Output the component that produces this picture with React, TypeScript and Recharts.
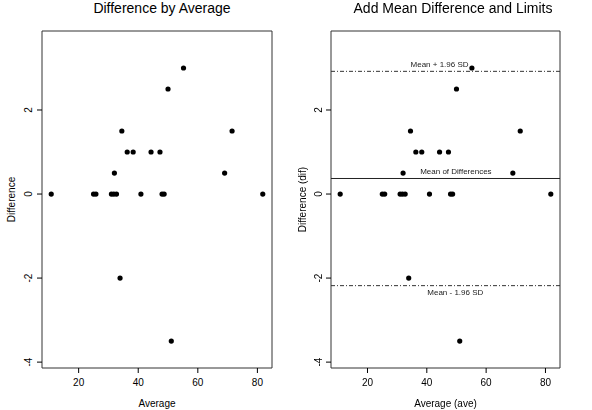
import React from "react";
import {
  ScatterChart,
  Scatter,
  XAxis,
  YAxis,
  ReferenceLine,
  ReferenceArea,
  ReferenceDot,
} from "recharts";

// values
const averages = [
  10.8, 25, 25.8, 31, 31.8, 32.7, 40.9, 48, 48.7, 81.8,
  32, 69, 36.3, 38.3, 44.3, 47.3, 34.5, 71.5, 50, 55.2, 33.9, 51.1,
];
const differences = [
  0, 0, 0, 0, 0, 0, 0, 0, 0, 0,
  0.5, 0.5, 1, 1, 1, 1, 1.5, 1.5, 2.5, 3, -2, -3.5,
];
const xTicks = [20, 40, 60, 80];
const yTicks = [-4, -2, 0, 2];
const meanDiff = 0.37;
const upperLimit = 2.92;
const lowerLimit = -2.18;

const X_DOMAIN: [number, number] = [7.7, 84.9];
const Y_DOMAIN: [number, number] = [-4.14, 3.88];

const points = averages.map((ave, i) => ({ ave, dif: differences[i] }));

const FONT = "'Liberation Sans', Arial, Helvetica, sans-serif";
const INK = "#000";

const Dot = (props: any) => (
  <circle cx={props.cx} cy={props.cy} r={2.6} fill={INK} />
);

const YTick = (props: any) => {
  const { x, y, payload } = props;
  return (
    <text
      x={x}
      y={y}
      transform={`rotate(-90, ${x}, ${y})`}
      textAnchor="middle"
      dominantBaseline="central"
      fontSize={10}
      fontFamily={FONT}
      fill={INK}
    >
      {payload.value}
    </text>
  );
};

const XTick = (props: any) => {
  const { x, y, payload } = props;
  return (
    <text
      x={x}
      y={y}
      textAnchor="middle"
      dominantBaseline="hanging"
      fontSize={10}
      fontFamily={FONT}
      fill={INK}
    >
      {payload.value}
    </text>
  );
};

function Panel({
  title,
  titleX,
  yLabel,
  xLabel,
  yAxisWidth,
  rightMargin,
  tickGap,
  labelX,
  withLimits,
}: {
  title: string;
  titleX: number;
  yLabel: string;
  xLabel: string;
  yAxisWidth: number;
  rightMargin: number;
  tickGap: number;
  labelX: number;
  withLimits?: boolean;
}) {
  const note = (text: string, pos: "top" | "bottom") => ({
    value: text,
    position: pos,
    offset: 4,
    fontSize: 8,
    fontFamily: FONT,
    fill: "#222",
  });

  return (
    <div style={{ position: "relative", width: 296, height: 410 }}>
      <div
        style={{
          position: "absolute",
          top: 0,
          left: titleX - 150,
          width: 300,
          textAlign: "center",
          fontFamily: FONT,
          fontSize: 14,
          lineHeight: "16px",
          color: INK,
        }}
      >
        {title}
      </div>
      <ScatterChart
        width={296}
        height={410}
        margin={{ top: 31, right: rightMargin, bottom: 0, left: 0 }}
      >
        <XAxis
          type="number"
          dataKey="ave"
          domain={X_DOMAIN}
          ticks={xTicks}
          allowDataOverflow
          height={42}
          axisLine={false}
          tickLine={{ stroke: INK }}
          tickSize={5}
          tickMargin={6}
          tick={<XTick />}
          label={{
            value: xLabel,
            position: "insideBottom",
            offset: 3,
            fontSize: 10,
            fontFamily: FONT,
            fill: INK,
          }}
        />
        <YAxis
          type="number"
          dataKey="dif"
          domain={Y_DOMAIN}
          ticks={yTicks}
          allowDataOverflow
          width={yAxisWidth}
          axisLine={false}
          tickLine={{ stroke: INK }}
          tickSize={5}
          tickMargin={tickGap}
          tick={<YTick />}
          label={(p: any) => {
            const vb = p.viewBox || {};
            const cx = labelX;
            const cy = (vb.y ?? 31) + (vb.height ?? 337) / 2;
            return (
              <text
                x={cx}
                y={cy}
                transform={`rotate(-90, ${cx}, ${cy})`}
                textAnchor="middle"
                dominantBaseline="central"
                fontSize={10}
                fontFamily={FONT}
                fill={INK}
              >
                {yLabel}
              </text>
            );
          }}
        />
        <ReferenceArea
          x1={X_DOMAIN[0]}
          x2={X_DOMAIN[1]}
          y1={Y_DOMAIN[0]}
          y2={Y_DOMAIN[1]}
          fill="none"
          stroke="#333"
          strokeWidth={1}
          ifOverflow="visible"
        />
        {withLimits && (
          <ReferenceLine y={meanDiff} stroke="#222" strokeWidth={1} />
        )}
        {withLimits && (
          <ReferenceLine
            y={upperLimit}
            stroke="#333"
            strokeWidth={1}
            strokeDasharray="4 2 1 2"
          />
        )}
        {withLimits && (
          <ReferenceLine
            y={lowerLimit}
            stroke="#333"
            strokeWidth={1}
            strokeDasharray="4 2 1 2"
          />
        )}
        {withLimits && (
          <ReferenceDot
            x={44.3}
            y={upperLimit}
            r={0}
            stroke="none"
            label={note("Mean + 1.96 SD", "top")}
          />
        )}
        {withLimits && (
          <ReferenceDot
            x={49.8}
            y={meanDiff}
            r={0}
            stroke="none"
            label={note("Mean of Differences", "top")}
          />
        )}
        {withLimits && (
          <ReferenceDot
            x={49.6}
            y={lowerLimit}
            r={0}
            stroke="none"
            label={note("Mean - 1.96 SD", "bottom")}
          />
        )}
        <Scatter data={points} shape={<Dot />} isAnimationActive={false} />
      </ScatterChart>
    </div>
  );
}

export default function App() {
  return (
    <div
      style={{
        position: "fixed",
        top: 0,
        left: 0,
        width: 592,
        height: 410,
        background: "#fff",
        display: "flex",
      }}
    >
      <Panel
        title="Difference by Average"
        titleX={162}
        yLabel="Difference"
        xLabel="Average"
        yAxisWidth={42}
        rightMargin={24}
        tickGap={8}
        labelX={11}
      />
      <Panel
        title="Add Mean Difference and Limits"
        titleX={157}
        yLabel="Difference (dif)"
        xLabel="Average (ave)"
        yAxisWidth={35}
        rightMargin={32}
        tickGap={7}
        labelX={6}
        withLimits
      />
    </div>
  );
}
